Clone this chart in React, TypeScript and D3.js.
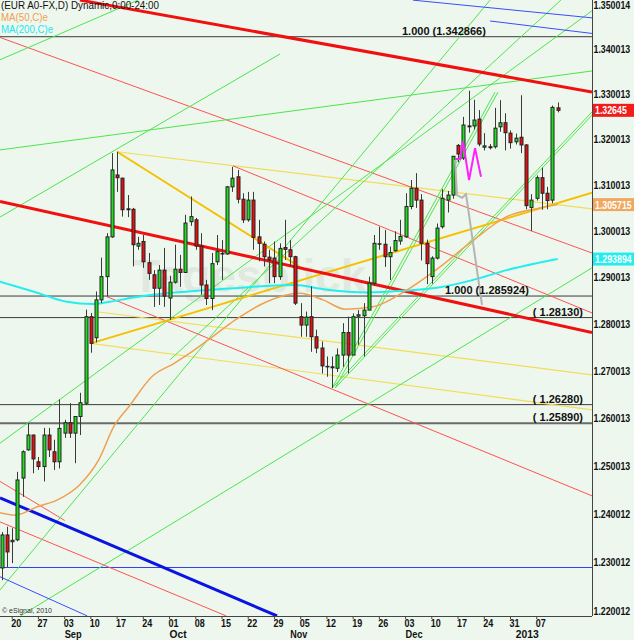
import React from "react";
import * as d3 from "d3";

// EUR A0-FX daily bars, 16 Aug 2012 .. 11 Jan 2013 (weekdays, incl. holidays)
const firstDay = new Date(2012, 7, 16);

const opens = [1.2288,1.2356,1.2342,1.2346,1.2474,1.2533,1.2564,1.2508,1.2498,1.2564,
1.2529,1.2508,1.2568,1.2590,1.2568,1.2603,1.2631,1.2815,1.2770,1.2851,
1.2901,1.2987,1.3122,1.3115,1.3048,1.3047,1.2967,1.2977,1.2931,1.2905,
1.2876,1.2915,1.2855,1.2889,1.2917,1.2910,1.3020,1.3024,1.2967,1.2883,
1.2854,1.2933,1.2951,1.2950,1.3096,1.3118,1.3069,1.3024,1.3067,1.2987,
1.2971,1.2943,1.2941,1.2901,1.2964,1.2959,1.2944,1.2815,1.2797,1.2815,
1.2772,1.2748,1.2708,1.2708,1.2705,1.2733,1.2781,1.2733,1.2816,1.2817,
1.2829,1.2887,1.2971,1.2971,1.2944,1.2957,1.2978,1.2987,1.3053,1.3093,
1.3067,1.2973,1.2901,1.2941,1.3009,1.3067,1.3078,1.3187,1.3159,1.3230,
1.3230,1.3245,1.3183,1.3184,1.3184,1.3228,1.3237,1.3214,1.3195,1.3205,
1.3188,1.3051,1.3071,1.3116,1.3082,1.3067,1.3270];

const highs = [1.2362,1.2373,1.2370,1.2487,1.2532,1.2589,1.2565,1.2518,1.2579,1.2579,
1.2554,1.2639,1.2596,1.2631,1.2604,1.2653,1.2830,1.2823,1.2869,1.2942,
1.2995,1.3170,1.3173,1.3116,1.3078,1.3050,1.2987,1.2991,1.2952,1.2915,
1.2926,1.2963,1.2903,1.2970,1.2948,1.3035,1.3075,1.3028,1.2995,1.2894,
1.2952,1.2991,1.2980,1.3098,1.3140,1.3133,1.3082,1.3085,1.3085,1.3024,
1.2977,1.2959,1.2977,1.2973,1.3024,1.2980,1.2946,1.2844,1.2826,1.2880,
1.2787,1.2762,1.2730,1.2730,1.2747,1.2801,1.2815,1.2822,1.2829,1.2844,
1.2901,1.2991,1.3009,1.3002,1.2966,1.2999,1.3024,1.3082,1.3111,1.3126,
1.3080,1.2981,1.2945,1.3016,1.3091,1.3087,1.3164,1.3190,1.3250,1.3308,
1.3288,1.3265,1.3214,1.3190,1.3270,1.3287,1.3258,1.3220,1.3213,1.3298,
1.3190,1.3080,1.3121,1.3138,1.3096,1.3275,1.3282];

const lows = [1.2263,1.2290,1.2298,1.2343,1.2435,1.2531,1.2484,1.2491,1.2467,1.2518,
1.2491,1.2494,1.2558,1.2558,1.2505,1.2564,1.2627,1.2738,1.2760,1.2844,
1.2858,1.2985,1.3085,1.3031,1.3030,1.2923,1.2959,1.2920,1.2894,1.2836,
1.2840,1.2836,1.2808,1.2886,1.2879,1.2909,1.3011,1.2959,1.2862,1.2840,
1.2829,1.2926,1.2894,1.2948,1.3085,1.3060,1.3017,1.3020,1.2959,1.2934,
1.2923,1.2887,1.2887,1.2894,1.2937,1.2923,1.2840,1.2772,1.2772,1.2740,
1.2737,1.2694,1.2687,1.2663,1.2697,1.2708,1.2694,1.2733,1.2755,1.2730,
1.2829,1.2881,1.2959,1.2922,1.2894,1.2955,1.2970,1.2985,1.3047,1.3050,
1.2936,1.2885,1.2886,1.2938,1.3005,1.3040,1.3070,1.3150,1.3155,1.3215,
1.3222,1.3185,1.3176,1.3178,1.3180,1.3217,1.3176,1.3180,1.3189,1.3170,
1.3047,1.3000,1.3066,1.3046,1.3047,1.3060,1.3260];

const closes = [1.2356,1.2321,1.2345,1.2470,1.2529,1.2564,1.2514,1.2498,1.2564,1.2533,
1.2508,1.2578,1.2590,1.2568,1.2603,1.2632,1.2815,1.2758,1.2851,1.2901,
1.2987,1.3133,1.3116,1.3046,1.3046,1.2970,1.2973,1.2933,1.2908,1.2876,
1.2915,1.2859,1.2889,1.2917,1.2910,1.3017,1.3031,1.2967,1.2883,1.2854,
1.2929,1.2955,1.2950,1.3096,1.3115,1.3069,1.3024,1.3067,1.2986,1.2973,
1.2944,1.2937,1.2901,1.2962,1.2960,1.2944,1.2844,1.2797,1.2814,1.2772,
1.2748,1.2710,1.2709,1.2706,1.2733,1.2781,1.2733,1.2815,1.2819,1.2829,
1.2887,1.2973,1.2972,1.2944,1.2953,1.2979,1.2988,1.3053,1.3093,1.3067,
1.2973,1.2929,1.2941,1.3006,1.3071,1.3078,1.3163,1.3168,1.3232,1.3228,
1.3243,1.3190,1.3186,1.3182,1.3225,1.3237,1.3215,1.3193,1.3203,1.3188,
1.3055,1.3067,1.3116,1.3082,1.3066,1.3271,1.32645];

// moving averages: [bar index, value]
const ma50 = [[-0.32,1.2402],[2.57,1.2397],[6.92,1.2415],[10.54,1.2428],[14.87,1.2460],
[18.49,1.2512],[21.39,1.2582],[24.27,1.2624],[28.62,1.2687],[32.96,1.2716],[35.86,1.2737],
[40.19,1.2772],[44.54,1.2808],[50.52,1.2847],[56.87,1.2865],[61.26,1.2851],[65.45,1.2831],
[70.79,1.2836],[77.22,1.2872],[83.57,1.2922],[89.92,1.2980],[96.28,1.3031],[102.63,1.3050],
[106,1.305715]];
const ma200 = [[-0.32,1.2890],[6.02,1.2869],[12.39,1.2847],[17.46,1.2842],[20.65,1.2847],
[25.09,1.2856],[31.46,1.2865],[37.81,1.2871],[44.16,1.2876],[50.52,1.2881],[55.92,1.2883],
[61.32,1.2874],[69.59,1.2867],[77.22,1.2871],[83.57,1.2878],[89.91,1.2894],[96.28,1.2915],
[106,1.293894]];

const priceTicks = [1.350014,1.340013,1.330013,1.320013,1.310013,1.300013,1.290013,
1.280013,1.270013,1.260013,1.250013,1.240012,1.230012,1.220012];

const levelValues = [1.342866, 1.285924, 1.2813, 1.2628, 1.2589];
const levelLabels = ["1.000 (1.342866)", "1.000 (1.285924)", "( 1.28130)", "( 1.26280)", "( 1.25890)"];
const blueLevel = 1.2289;

// drawn trend lines: [[bar, price], [bar, price]]
const redThick = [[[14.9,1.3511],[112.54,1.3305]], [[-0.32,1.3064],[112.54,1.2781]]];
const redThin = [[[-0.32,1.3427],[112.54,1.2952]], [[20.02,1.2858],[112.54,1.2437]],
[[44.1,1.3142],[112.54,1.2823]], [[-0.32,1.2383],[42.8,1.2190]], [[-0.32,1.2467],[12.0,1.2386]]];
const goldThick = [[[22,1.3173],[57.8,1.2915]], [[17,1.2758],[112.54,1.3083]]];
const yellowThin = [[[22,1.3173],[112.54,1.3048]], [[17.8,1.2826],[112.54,1.2691]],
[[17,1.2758],[112.54,1.2617]]];
const blueThick = [[[-0.32,1.2433],[52.5,1.2190]]];
const blueThin = [[[-0.32,1.2270],[16.3,1.2190]], [[78.4,1.3511],[112.54,1.3471]],
[[93.1,1.3464],[112.54,1.3436]]];
const greenThin = [[[-0.32,1.3377],[26.0,1.3511]], [[-0.32,1.3177],[112.54,1.3352]],
[[-0.32,1.3030],[53.06,1.3390]], [[-0.32,1.2547],[112.54,1.3487]], [[-0.32,1.2243],[93.1,1.3511]],
[[3.58,1.2190],[112.54,1.2920]], [[32.09,1.2723],[106.6,1.3511]]];
const greenDouble = [[[63,1.2663],[94.05,1.3305]], [[63,1.2663],[112.54,1.3261]]];
const grayPath = [[86.43,1.3155],[86.81,1.3078],[87.76,1.3072],[88.52,1.3080],[91.57,1.2840]];
const magentaPath = [[86.6,1.3157],[87.4,1.3157],[87.95,1.3195],[89.1,1.3111],[90.24,1.3181],[91.38,1.3118]];

const FONT = "'Liberation Sans Narrow','Arial Narrow','Liberation Sans',Arial,sans-serif";
const BG = "#eef7ee";
const monthNames = ["Jan","Feb","Mar","Apr","May","Jun","Jul","Aug","Sep","Oct","Nov","Dec"];

function tradingDays(start, n) {
  const out = [];
  const d = new Date(start);
  while (out.length < n) {
    const wd = d.getDay();
    if (wd !== 0 && wd !== 6) out.push(new Date(d));
    d.setDate(d.getDate() + 1);
  }
  return out;
}

export default function App() {
  const days = tradingDays(firstDay, closes.length);
  const plotW = 592;
  const plotH = 616;

  const x = d3.scaleLinear().domain([0, days.length - 1]).range([1.7, 557.7]);
  const y = d3.scaleLog().domain([1.22, 1.35]).range([611, 5]);

  const maLine = d3.line().x((d) => x(d[0])).y((d) => y(d[1])).curve(d3.curveMonotoneX);
  const poly = d3.line().x((d) => x(d[0])).y((d) => y(d[1]));

  const seg = (s, key, stroke, w, dx = 0) => (
    <line key={key} x1={x(s[0][0]) + dx} y1={y(s[0][1])} x2={x(s[1][0]) + dx} y2={y(s[1][1])}
      stroke={stroke} strokeWidth={w} />
  );

  const weekIdx = days.map((d, i) => i).filter((i) => days[i].getDay() === 1);
  const monthIdx = days.map((d, i) => i).filter((i) => i > 0 && days[i].getMonth() !== days[i - 1].getMonth());

  const levelX = [402, 445, 583, 583, 583];
  const levelAnchor = ["start", "start", "end", "end", "end"];

  const boxes = [
    { v: closes[closes.length - 1], fill: "#f21c1c" },
    { v: ma50[ma50.length - 1][1], fill: "#f0a860" },
    { v: ma200[ma200.length - 1][1], fill: "#22eef0" },
  ];

  return (
    <svg width={634} height={640} style={{ position: "absolute", left: 0, top: 0, display: "block" }}
      fontFamily={FONT}>
      <defs>
        <clipPath id="plot"><rect x={0} y={0} width={plotW} height={plotH} /></clipPath>
      </defs>
      <rect x={0} y={0} width={634} height={640} fill={BG} />

      <g clipPath="url(#plot)">
        <text x={132} y={292} fontSize={46} fontWeight="bold" fill="#e0e9e0" fontFamily="Arial, sans-serif">Tagesblick</text>

        {levelValues.map((v, i) => (
          <line key={"lv" + i} x1={0} x2={plotW} y1={y(v)} y2={y(v)}
            stroke={i === 4 ? "#6a6a6a" : "#3a3a3a"} strokeWidth={i === 4 ? 2 : 1} />
        ))}
        <line x1={0} x2={plotW} y1={y(blueLevel)} y2={y(blueLevel)} stroke="#3040f0" strokeWidth={1} />

        {yellowThin.map((s, i) => seg(s, "yt" + i, "#f2dc5a", 1.2))}
        {redThin.map((s, i) => seg(s, "rt" + i, "#ff5252", 1))}
        {greenThin.map((s, i) => seg(s, "gt" + i, "#4ee44e", 1))}
        {greenDouble.map((s, i) => seg(s, "gd" + i, "#4ee44e", 1))}
        {greenDouble.map((s, i) => seg(s, "gd2" + i, "#4ee44e", 1, 3))}
        {blueThin.map((s, i) => seg(s, "bt" + i, "#3a4cff", 1))}
        {blueThick.map((s, i) => seg(s, "bk" + i, "#0a14e0", 3))}
        {goldThick.map((s, i) => seg(s, "go" + i, "#f5c000", 2))}
        {redThick.map((s, i) => seg(s, "rk" + i, "#f01010", 3))}

        <path d={maLine(ma200)} fill="none" stroke="#22eef0" strokeWidth={2} />
        <path d={maLine(ma50)} fill="none" stroke="#f0a050" strokeWidth={1.5} />

        {closes.map((c, i) => {
          const o = opens[i];
          const cx = Math.round(x(i)) + 0.5;
          const top = y(Math.max(o, c));
          const bot = y(Math.min(o, c));
          const up = c >= o;
          return (
            <g key={"c" + i}>
              <line x1={cx} x2={cx} y1={y(highs[i])} y2={y(lows[i])} stroke="#3a3a3a" strokeWidth={1} />
              <rect x={cx - 1.5} y={top} width={3} height={Math.max(bot - top, 0.5)}
                fill={up ? "#1ee01e" : "#e81010"} stroke="#222" strokeWidth={1} />
            </g>
          );
        })}

        <path d={poly(grayPath)} fill="none" stroke="#b4b4b4" strokeWidth={2} />
        <path d={poly(magentaPath)} fill="none" stroke="#ff22ff" strokeWidth={2} />

        {levelValues.map((v, i) => (
          <text key={"ll" + i} x={levelX[i]} y={y(v) - 2} textAnchor={levelAnchor[i]}
            fontSize={11} fontWeight="bold" fill="#111">{levelLabels[i]}</text>
        ))}
      </g>

      <text x={1} y={8.5} fontSize={11} fill="#111" textLength={158} lengthAdjust="spacingAndGlyphs">(EUR A0-FX,D) Dynamic,0:00-24:00</text>
      <text x={1} y={20.5} fontSize={11} fill="#f0a050" textLength={47} lengthAdjust="spacingAndGlyphs">MA(50,C)e</text>
      <text x={1} y={32.5} fontSize={11} fill="#22e6f0" textLength={52} lengthAdjust="spacingAndGlyphs">MA(200,C)e</text>
      <text x={2} y={613} fontSize={7} fill="#333">© eSignal, 2010</text>

      <line x1={plotW + 0.5} x2={plotW + 0.5} y1={0} y2={plotH} stroke="#444" strokeWidth={1} />
      <line x1={0} x2={plotW} y1={plotH + 0.5} y2={plotH + 0.5} stroke="#444" strokeWidth={1} />

      {priceTicks.map((v) => (
        <g key={"pt" + v} transform={`translate(593.5,${y(v) + 4}) scale(0.8,1)`}>
          <text x={0} y={0} fontSize={11} fontWeight="bold" fill="#111">{v.toFixed(6)}</text>
        </g>
      ))}

      {boxes.map((b, i) => (
        <g key={"bx" + i}>
          <rect x={593} y={y(b.v) - 6.5} width={41} height={13} fill={b.fill} />
          <g transform={`translate(595,${y(b.v) + 4}) scale(0.8,1)`}>
            <text x={0} y={0} fontSize={11} fontWeight="bold" fill="#fff">{String(b.v)}</text>
          </g>
        </g>
      ))}

      {weekIdx.map((i) => (
        <g key={"w" + i}>
          <line x1={x(i)} x2={x(i)} y1={plotH} y2={plotH + 3} stroke="#444" />
          <text x={x(i) - 1} y={626.5} fontSize={10} fontWeight="bold" fill="#111"
            textLength={10} lengthAdjust="spacingAndGlyphs">{String(days[i].getDate()).padStart(2, "0")}</text>
        </g>
      ))}
      {monthIdx.map((i) => {
        const label = days[i].getMonth() === 0 ? String(days[i].getFullYear()) : monthNames[days[i].getMonth()];
        return (
          <text key={"m" + i} x={x(i)} y={638} fontSize={10} fontWeight="bold" fill="#111"
            textLength={label.length === 4 ? 23 : 17} lengthAdjust="spacingAndGlyphs">{label}</text>
        );
      })}
    </svg>
  );
}
